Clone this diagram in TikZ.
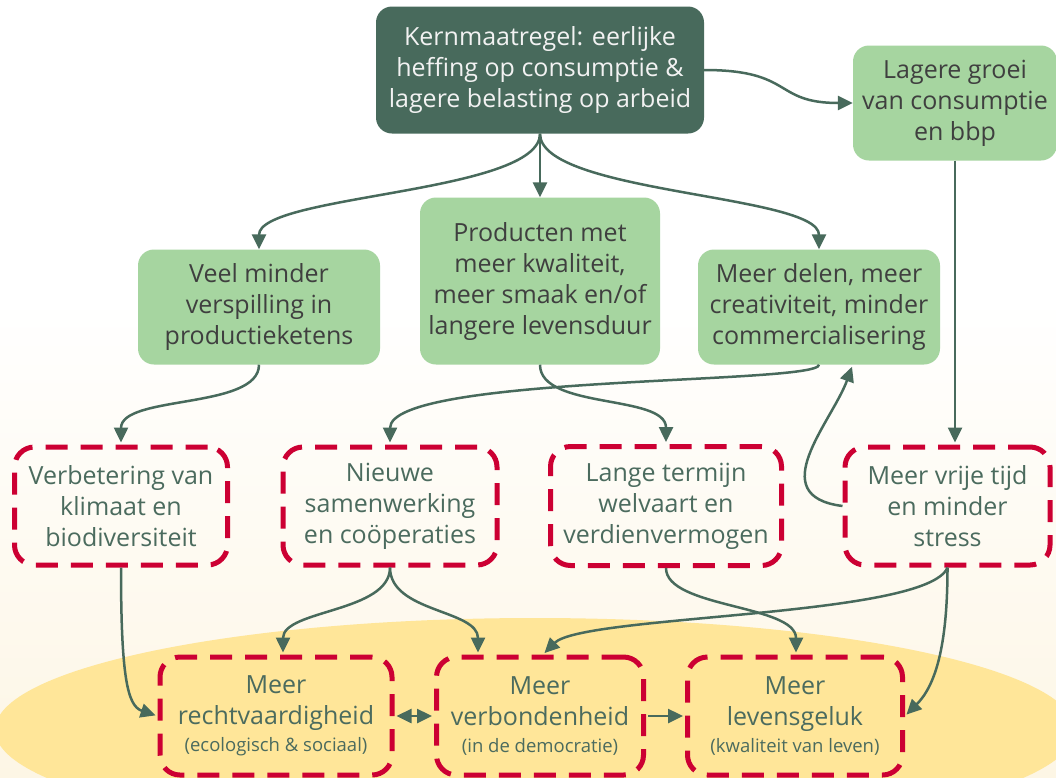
\documentclass[tikz,border=0pt]{standalone}
\usepackage{fontspec}
\setmainfont{Open Sans}
\usetikzlibrary{arrows.meta,calc}
\definecolor{dk}{HTML}{486A5C}
\definecolor{lg}{HTML}{A6D5A0}
\definecolor{rd}{HTML}{CC0033}
\definecolor{yl}{HTML}{FFE699}
\definecolor{cr}{HTML}{FDF6E5}
\definecolor{tx}{HTML}{3F3F3F}
\definecolor{gt}{HTML}{4B6B5E}
\tikzset{
  base/.style={align=center, inner sep=0pt, font=\fontsize{25}{31}\selectfont},
  darkbox/.style={base, fill=dk, text=white!95!black, rounded corners=16pt},
  greenbox/.style={base, fill=lg, text=tx, rounded corners=16pt},
  redbox/.style={base, draw=rd, line width=5pt, dash pattern=on 22pt off 13pt, rounded corners=20pt, text=gt},
  arr/.style={draw=dk, line width=2.5pt, -{Triangle[length=15pt,width=14pt]}},
  tored/.style={shorten >=2pt}
}
\newcommand{\smalltxt}[1]{{\fontsize{18.5}{20}\selectfont #1}}
\begin{document}
\begin{tikzpicture}[x=1pt,y=-1pt]
\useasboundingbox (0,0) rectangle (1056,777);
\begin{scope}
\clip (0,0) rectangle (1056,777);
\fill[white] (0,0) rectangle (1056,777);
\shade[top color=white, bottom color=cr] (0,300) rectangle (1056,777);
\fill[yl] (535,730) ellipse [x radius=540pt, y radius=112pt];

\node[darkbox, minimum width=328pt, minimum height=127pt] (kern) at (540,70)
  {Kernmaatregel: eerlijke\\heffing op consumptie \&\\lagere belasting op arbeid};
\node[greenbox, minimum width=204pt, minimum height=115pt] (lagere) at (955,103)
  {Lagere groei\\van consumptie\\en bbp};
\node[greenbox, minimum width=242pt, minimum height=115pt] (veel) at (259,307)
  {Veel minder\\verspilling in\\productieketens};
\node[greenbox, minimum width=240pt, minimum height=167pt] (prod) at (540,281)
  {Producten met\\meer kwaliteit,\\meer smaak en/of\\langere levensduur};
\node[greenbox, minimum width=242pt, minimum height=115pt] (delen) at (819,307)
  {Meer delen, meer\\creativiteit, minder\\commercialisering};

\node[redbox, minimum width=213pt, minimum height=118pt] (verb) at (121,506)
  {Verbetering van\\klimaat en\\biodiversiteit};
\node[redbox, minimum width=214pt, minimum height=118pt] (nieuw) at (390,506)
  {Nieuwe\\samenwerking\\en coöperaties};
\node[redbox, minimum width=231pt, minimum height=119pt] (lange) at (666,506)
  {Lange termijn\\welvaart en\\verdienvermogen};
\node[redbox, minimum width=205pt, minimum height=118pt] (vrije) at (947.5,506)
  {Meer vrije tijd\\en minder\\stress};

\node[redbox, minimum width=232pt, minimum height=118pt] (recht) at (276,716)
  {Meer\\rechtvaardigheid\\[-4pt]\smalltxt{(ecologisch \& sociaal)}};
\node[redbox, minimum width=207pt, minimum height=118pt] (verbond) at (540,716)
  {Meer\\verbondenheid\\[-4pt]\smalltxt{(in de democratie)}};
\node[redbox, minimum width=215pt, minimum height=118pt] (levens) at (795,716)
  {Meer\\levensgeluk\\[-4pt]\smalltxt{(kwaliteit van leven)}};

% connectors
\draw[arr] (kern.south) -- (prod.north);
\draw[arr] (kern.south) .. controls +(0,60) and +(0,-55) .. (veel.north);
\draw[arr] (kern.south) .. controls +(0,60) and +(0,-55) .. (delen.north);
\draw[arr] (kern.east) .. controls +(90,0) and +(-80,0) .. (lagere.west);
\draw[arr, tored] (lagere.south) -- (lagere.south |- vrije.north);
\draw[arr, tored] (veel.south) .. controls +(0,45) and +(0,-50) .. (verb.north);
\draw[arr, tored] (prod.south) .. controls +(0,45) and +(0,-50) .. (lange.north);
\draw[arr, tored] (delen.south) .. controls +(0,20) and +(0,-70) .. (nieuw.north);
\draw[arr] (vrije.west) .. controls +(-80,-10) and +(-20,55) .. ($(delen.south)+(33,2)$);
\draw[arr, tored] (verb.south) .. controls +(0,110) and +(-30,-10) .. (recht.west);
\draw[arr, tored] (nieuw.south) .. controls +(0,45) and +(0,-45) .. ($(recht.north)+(7,0)$);
\draw[arr, tored] (nieuw.south) .. controls +(0,45) and +(0,-45) .. ($(verbond.north)+(-62,0)$);
\draw[arr, tored] (lange.south) .. controls +(0,40) and +(0,-50) .. ($(levens.north)+(1,0)$);
\draw[arr, tored] (vrije.south) .. controls +(-20,50) and +(40,-40) .. ($(verbond.north)+(3,0)$);
\draw[arr, tored] (vrije.south) .. controls +(0,80) and +(30,-30) .. (levens.east);
\draw[arr, {Triangle[length=15pt,width=14pt]}-{Triangle[length=15pt,width=14pt]}, shorten >=2pt, shorten <=2pt] (recht.east) -- (verbond.west);
\draw[arr, tored, shorten <=2pt] (verbond.east) -- (levens.west);
\end{scope}
\end{tikzpicture}
\end{document}
